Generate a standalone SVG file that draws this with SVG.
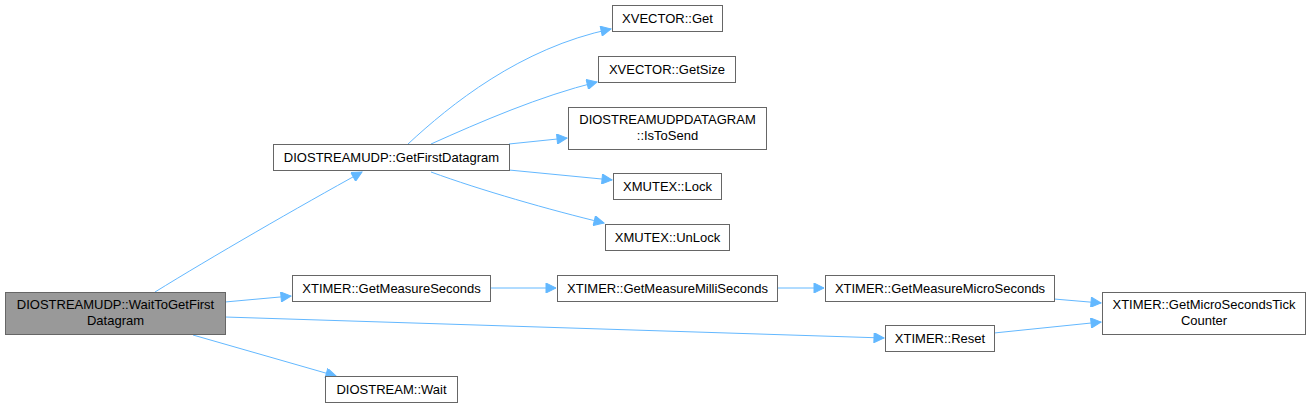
<svg xmlns="http://www.w3.org/2000/svg" width="1311" height="408" viewBox="0 0 1311 408">
<style>
.n rect{fill:#ffffff;stroke:#666666;stroke-width:1}
.n.m rect{fill:#999999}
.n text{font-family:"Liberation Sans",Arial,sans-serif;font-size:13px;fill:#000000;text-anchor:middle}
#edges path{fill:none;stroke:#63b8ff;stroke-width:1;marker-end:url(#ah)}
</style>
<defs>
<marker id="ah" viewBox="0 0 10 10" refX="10" refY="5" markerWidth="15" markerHeight="10" markerUnits="userSpaceOnUse" orient="auto">
<path d="M0,0 L10,5 L0,10 z" fill="#63b8ff" stroke="#63b8ff"/>
</marker>
</defs>
<rect width="1311" height="408" fill="#ffffff"/>
<g id="edges">
<path d="M155,292 C210,258 300,206 362,172"/>
<path d="M225,302 L291,296"/>
<path d="M225,317 L884,338"/>
<path d="M193,335 L336,376"/>
<path d="M408,144 C450,105 520,48 611,29"/>
<path d="M431,144 C480,122 540,96 597,82"/>
<path d="M509,144 L567,138"/>
<path d="M509,170 L612,180"/>
<path d="M431,172 C480,190 550,210 604,223"/>
<path d="M490,288 L556,288"/>
<path d="M777,288 L824,288"/>
<path d="M1054,299 L1101,303"/>
<path d="M994,333 L1101,322"/>
</g>
<g id="n0" class="n m"><rect x="5.5" y="292.5" width="220" height="42"/><text x="115.5" y="309">DIOSTREAMUDP::WaitToGetFirst</text><text x="115.5" y="325">Datagram</text></g>
<g id="n1" class="n"><rect x="273.5" y="144.5" width="236" height="26"/><text x="391.5" y="162">DIOSTREAMUDP::GetFirstDatagram</text></g>
<g id="n2" class="n"><rect x="612.5" y="5.5" width="110" height="26"/><text x="667.5" y="23">XVECTOR::Get</text></g>
<g id="n3" class="n"><rect x="598.5" y="56.5" width="137" height="26"/><text x="667" y="74">XVECTOR::GetSize</text></g>
<g id="n4" class="n"><rect x="568.5" y="107.5" width="198" height="42"/><text x="667.5" y="124">DIOSTREAMUDPDATAGRAM</text><text x="667.5" y="140">::IsToSend</text></g>
<g id="n5" class="n"><rect x="613.5" y="173.5" width="108" height="26"/><text x="667.5" y="191">XMUTEX::Lock</text></g>
<g id="n6" class="n"><rect x="605.5" y="224.5" width="124" height="26"/><text x="667.5" y="242">XMUTEX::UnLock</text></g>
<g id="n7" class="n"><rect x="292.5" y="275.5" width="198" height="26"/><text x="391.5" y="293">XTIMER::GetMeasureSeconds</text></g>
<g id="n8" class="n"><rect x="557.5" y="275.5" width="220" height="26"/><text x="667.5" y="293">XTIMER::GetMeasureMilliSeconds</text></g>
<g id="n9" class="n"><rect x="825.5" y="275.5" width="229" height="26"/><text x="940" y="293">XTIMER::GetMeasureMicroSeconds</text></g>
<g id="n10" class="n"><rect x="1102.5" y="292.5" width="203" height="42"/><text x="1204" y="309">XTIMER::GetMicroSecondsTick</text><text x="1204" y="325">Counter</text></g>
<g id="n11" class="n"><rect x="885.5" y="325.5" width="109" height="26"/><text x="940" y="343">XTIMER::Reset</text></g>
<g id="n12" class="n"><rect x="325.5" y="376.5" width="132" height="26"/><text x="391.5" y="394">DIOSTREAM::Wait</text></g>
</svg>
